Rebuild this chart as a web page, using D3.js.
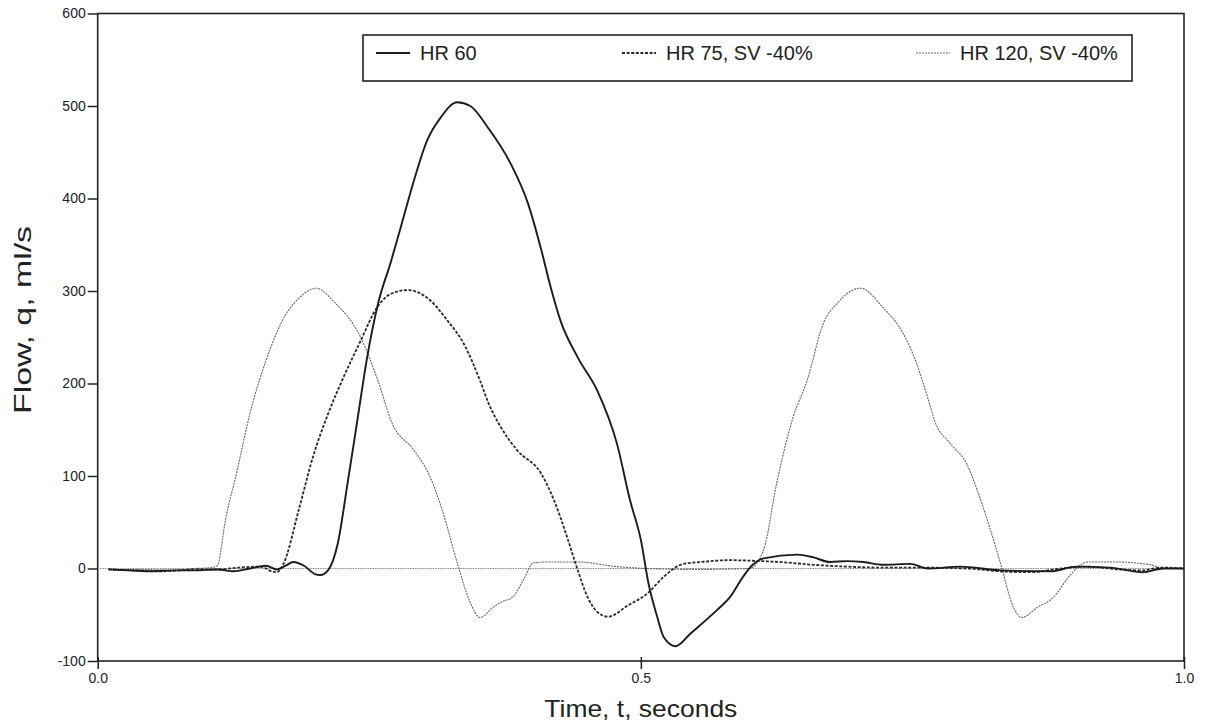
<!DOCTYPE html>
<html>
<head>
<meta charset="utf-8">
<script src="https://cdn.jsdelivr.net/npm/d3@7"></script>
<style>
  html, body { margin: 0; padding: 0; background: #fff; }
  svg { display: block; }
  text { font-family: "Liberation Sans", Arial, sans-serif; fill: #222; }
</style>
</head>
<body>
<svg id="chart" width="1207" height="726"></svg>
<script>
// Flow waveforms: [time in s, flow in ml/s]
const hr60 = [
  [0.01,-1],[0.03,-2],[0.05,-3],[0.07,-2],[0.09,-2],[0.11,-1],[0.125,-3],[0.14,0],
  [0.155,3],[0.165,-1],[0.173,3],[0.18,7],[0.19,3],[0.2,-6],[0.205,-7],[0.212,-2],
  [0.221,27],[0.23,92],[0.239,160],[0.248,228],[0.258,286],[0.27,332],[0.279,369],
  [0.291,419],[0.303,462],[0.316,488],[0.331,504],[0.343,500],[0.359,477],[0.38,438],
  [0.396,395],[0.408,346],[0.417,304],[0.426,268],[0.442,228],[0.46,192],[0.478,135],
  [0.49,74],[0.5,31],[0.507,-16],[0.515,-52],[0.521,-74],[0.532,-84],[0.546,-70],
  [0.57,-45],[0.582,-31],[0.594,-9],[0.603,4],[0.613,11],[0.644,15],[0.659,12],
  [0.674,7],[0.69,8],[0.705,7],[0.723,4],[0.748,5],[0.764,0],[0.794,2],[0.831,-2],
  [0.877,-3],[0.901,2],[0.932,1],[0.962,-4],[0.981,0],[1.0,0]
];
const hr75 = [
  [0.01,-1],[0.03,-2],[0.06,-3],[0.09,-1],[0.11,-1],[0.13,1],[0.15,2],[0.16,-3],
  [0.165,-4],[0.171,5],[0.185,63],[0.198,120],[0.212,167],[0.226,206],[0.242,246],
  [0.257,282],[0.27,297],[0.285,301],[0.303,293],[0.322,268],[0.337,243],[0.352,203],
  [0.36,178],[0.371,153],[0.386,128],[0.408,103],[0.42,74],[0.431,38],[0.44,5],
  [0.451,-31],[0.46,-47],[0.47,-52],[0.488,-40],[0.506,-27],[0.521,-9],[0.539,5],
  [0.555,7],[0.582,9],[0.61,8],[0.628,7],[0.659,4],[0.69,2],[0.72,1],[0.75,1],
  [0.8,0],[0.83,-3],[0.86,-4],[0.88,-1],[0.91,2],[0.94,-1],[0.96,-2],[0.98,1],[1.0,0]
];
const hr120 = [
  [0.01,-1],[0.04,-1],[0.07,-2],[0.09,0],[0.105,1],[0.11,3],[0.118,55],[0.128,104],
  [0.14,167],[0.155,225],[0.17,268],[0.185,292],[0.2015,303],[0.217,289],[0.242,250],
  [0.258,203],[0.271,157],[0.291,128],[0.306,99],[0.318,60],[0.331,6],[0.343,-37],
  [0.352,-53],[0.364,-42],[0.372,-36],[0.382,-31],[0.392,-12],[0.401,6],[0.414,7],
  [0.442,7],[0.478,2],[0.506,0],[0.55,-1],[0.6,0],[0.613,20],[0.625,92],[0.64,163],
  [0.653,203],[0.668,265],[0.681,287],[0.702,303],[0.723,282],[0.742,253],[0.754,221],
  [0.764,185],[0.771,158],[0.785,135],[0.8,113],[0.812,77],[0.822,41],[0.831,6],
  [0.843,-42],[0.851,-53],[0.865,-42],[0.88,-31],[0.892,-12],[0.901,0],[0.911,7],
  [0.938,7],[0.969,4],[0.981,0],[1.0,0]
];

const seriesNames = ["HR 60", "HR 75, SV -40%", "HR 120, SV -40%"];
const yTicks = [-100, 0, 100, 200, 300, 400, 500, 600];
const xTicks = [0, 0.5, 1.0];

const svg = d3.select("#chart");
const x = d3.scaleLinear().domain([0, 1]).range([97.7, 1184]);
const y = d3.scaleLinear().domain([-100, 600]).range([661, 13.5]);

const ink = "#222";

// plot frame
svg.append("rect")
  .attr("x", x(0)).attr("y", y(600))
  .attr("width", x(1) - x(0)).attr("height", y(-100) - y(600))
  .attr("fill", "none").attr("stroke", ink).attr("stroke-width", 1.6);

// zero reference line
svg.append("line")
  .attr("x1", x(0)).attr("x2", x(1))
  .attr("y1", y(0)).attr("y2", y(0))
  .attr("stroke", "#888").attr("stroke-width", 1)
  .attr("stroke-dasharray", "1.5,1");

// y axis (plain hyphen for negatives)
const yAxis = svg.append("g")
  .attr("transform", `translate(${x(0)},0)`)
  .call(d3.axisLeft(y).tickValues(yTicks).tickSize(10).tickPadding(2).tickFormat(d => String(d)));
yAxis.select(".domain").remove();
yAxis.selectAll(".tick line").attr("stroke", ink).attr("stroke-width", 1.5);
yAxis.selectAll(".tick text")
  .style("font-family", "'Liberation Sans', Arial, sans-serif")
  .style("font-size", "14px").attr("fill", "#333");

// x axis
const xAxis = svg.append("g")
  .attr("transform", `translate(0,${y(-100)})`)
  .call(d3.axisBottom(x).tickValues(xTicks).tickSize(8).tickPadding(4).tickFormat(d3.format(".1f")));
xAxis.select(".domain").remove();
xAxis.selectAll(".tick line").attr("y1", -4).attr("stroke", ink).attr("stroke-width", 1.5);
xAxis.selectAll(".tick text")
  .style("font-family", "'Liberation Sans', Arial, sans-serif")
  .style("font-size", "14px").attr("fill", "#444");

// curves
const line = d3.line()
  .x(d => x(d[0])).y(d => y(d[1]))
  .curve(d3.curveMonotoneX);

const styles = [
  { data: hr60,  stroke: "#1c1c1c", width: 1.9, dash: null },
  { data: hr75,  stroke: "#2a2a2a", width: 1.8, dash: "3,1.6" },
  { data: hr120, stroke: "#666",    width: 1.1, dash: "2,1" }
];

// draw thinner series first so the heavy trace sits on top
[2, 1, 0].forEach(i => {
  const s = styles[i];
  svg.append("path")
    .attr("d", line(s.data))
    .attr("fill", "none")
    .attr("stroke", s.stroke)
    .attr("stroke-width", s.width)
    .attr("stroke-linejoin", "round")
    .attr("stroke-dasharray", s.dash);
});

// legend
const lg = svg.append("g");
lg.append("rect")
  .attr("x", 363).attr("y", 35).attr("width", 769).attr("height", 46)
  .attr("fill", "#fff").attr("stroke", ink).attr("stroke-width", 1.6);
const legendItems = [
  { x1: 376, x2: 410, tx: 420 },
  { x1: 622, x2: 656, tx: 666 },
  { x1: 916, x2: 950, tx: 960 }
];
legendItems.forEach((it, i) => {
  const s = styles[i];
  lg.append("line")
    .attr("x1", it.x1).attr("x2", it.x2).attr("y1", 53).attr("y2", 53)
    .attr("stroke", s.stroke).attr("stroke-width", s.width)
    .attr("stroke-dasharray", s.dash);
  lg.append("text")
    .attr("x", it.tx).attr("y", 60)
    .style("font-size", "20px")
    .text(seriesNames[i]);
});

// axis titles
svg.append("text")
  .attr("x", x(0.5)).attr("y", 717)
  .attr("text-anchor", "middle")
  .attr("textLength", 193).attr("lengthAdjust", "spacingAndGlyphs")
  .style("font-size", "24px")
  .text("Time, t, seconds");

svg.append("text")
  .attr("transform", "translate(31,320) rotate(-90)")
  .attr("text-anchor", "middle")
  .attr("textLength", 188).attr("lengthAdjust", "spacingAndGlyphs")
  .style("font-size", "24px")
  .text("Flow, q, ml/s");
</script>
</body>
</html>
